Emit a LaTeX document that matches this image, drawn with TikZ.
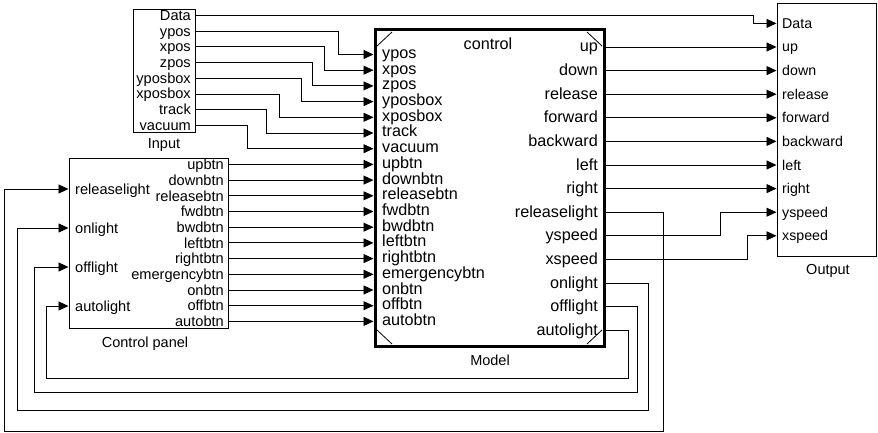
\documentclass[tikz,border=0pt]{standalone}
\usepackage{fontspec}
\setmainfont{Liberation Sans}
\usetikzlibrary{arrows.meta}
\begin{document}
\begin{tikzpicture}[x=1pt,y=-1pt,
  wire/.style={line width=0.9pt,draw=black},
  sig/.style={wire,-{Triangle[length=10pt,width=9pt]}},
  blk/.style={draw,line width=0.9pt,inner sep=0pt,outer sep=0pt,anchor=north west},
  port/.style={inner sep=0pt,font=\fontsize{14.6}{14.6}\selectfont},
  oport/.style={inner sep=0pt,font=\fontsize{14.2}{14.2}\selectfont},
  mport/.style={inner sep=0pt,font=\fontsize{16.2}{16.2}\selectfont},
  title/.style={inner sep=0pt,font=\fontsize{14.5}{14.5}\selectfont},
]
\useasboundingbox (0,0) rectangle (878,433);

% ---- blocks ----
\node[blk,minimum width=62pt,minimum height=123pt] (input) at (133,9) {};
\node[blk,minimum width=159pt,minimum height=170pt] (panel) at (69,158) {};
\node[blk,line width=3pt,minimum width=229pt,minimum height=316pt] (model) at (375,30) {};
\node[blk,minimum width=99pt,minimum height=253pt] (output) at (777,3) {};

% cut corners of the model block
\draw[line width=0.8pt] (model.north west) ++(2,16) -- ++(15,-14);
\draw[line width=0.8pt] (model.north east) ++(-2,16) -- ++(-15,-14);
\draw[line width=0.8pt] (model.south west) ++(2,-16) -- ++(15,14);
\draw[line width=0.8pt] (model.south east) ++(-2,-16) -- ++(-15,14);

% block captions
\node[title] (inputcap) at (164,145) {Input};
\node[title] (panelcap) at (145,344) {Control panel};
\node[title] (modelcap) at (490,360) {Model};
\node[title] (outputcap) at (828,271) {Output};
\node[mport,anchor=base] (modeltitle) at (488,50) {control};

% ---- ports of the input block ----
\foreach \n [count=\i from 0] in {Data,ypos,xpos,zpos,yposbox,xposbox,track,vacuum} {
  \coordinate (in-\n) at (195,{15.5+15.7*\i});
  \node[port,anchor=base east] (inl-\n) at (191,{20.5+15.7*\i}) {\n};
}

% ---- input ports of the model ----
\foreach \n [count=\i from 0] in {ypos,xpos,zpos,yposbox,xposbox,track,vacuum,upbtn,downbtn,releasebtn,fwdbtn,bwdbtn,leftbtn,rightbtn,emergencybtn,onbtn,offbtn,autobtn} {
  \coordinate (mi-\n) at (373.5,{54.5+15.7*\i});
  \node[mport,anchor=base west] (mil-\n) at (382,{58.5+15.7*\i}) {\n};
}

% ---- output ports of the model ----
\foreach \n [count=\i from 0] in {up,down,release,forward,backward,left,right,releaselight,yspeed,xspeed,onlight,offlight,autolight} {
  \coordinate (mo-\n) at (605.5,{47+23.6*\i});
  \node[mport,anchor=base east] (mol-\n) at (598,{52+23.6*\i}) {\n};
}

% ---- ports of the output block ----
\foreach \n [count=\i from 0] in {Data,up,down,release,forward,backward,left,right,yspeed,xspeed} {
  \coordinate (oi-\n) at (776.5,{23.4+23.6*\i});
  \node[oport,anchor=base west] (oil-\n) at (782,{28.4+23.6*\i}) {\n};
}

% ---- ports of the control panel ----
\foreach \n [count=\i from 7] in {upbtn,downbtn,releasebtn,fwdbtn,bwdbtn,leftbtn,rightbtn,emergencybtn,onbtn,offbtn,autobtn} {
  \coordinate (co-\n) at (228,{54.5+15.7*\i});
  \node[port,anchor=base east] (col-\n) at (224,{59.7+15.7*\i}) {\n};
}
\foreach \n [count=\i from 0] in {releaselight,onlight,offlight,autolight} {
  \coordinate (ci-\n) at (68.5,{189+39*\i});
  \node[port,anchor=base west] (cil-\n) at (75,{194+39*\i}) {\n};
}

% ---- connections: input -> model / output ----
\draw[sig] (in-Data) -- (753,0 |- in-Data) |- (oi-Data);
\foreach \n/\bx in {ypos/338,xpos/324,zpos/312,yposbox/301,xposbox/279,track/266,vacuum/247}
  \draw[sig] (in-\n) -- (\bx,0 |- in-\n) |- (mi-\n);

% ---- connections: control panel -> model ----
\foreach \n in {upbtn,downbtn,releasebtn,fwdbtn,bwdbtn,leftbtn,rightbtn,emergencybtn,onbtn,offbtn,autobtn}
  \draw[sig] (co-\n) -- (mi-\n);

% ---- connections: model -> output ----
\foreach \n in {up,down,release,forward,backward,left,right}
  \draw[sig] (mo-\n) -- (oi-\n);
\draw[sig] (mo-yspeed) -- (720,0 |- mo-yspeed) |- (oi-yspeed);
\draw[sig] (mo-xspeed) -- (747,0 |- mo-xspeed) |- (oi-xspeed);

% ---- feedback: model lights -> control panel ----
\draw[sig] (mo-releaselight) -| (663,431) -- (4,431) |- (ci-releaselight);
\draw[sig] (mo-onlight) -| (648,410) -- (17,410) |- (ci-onlight);
\draw[sig] (mo-offlight) -| (637,392) -- (34,392) |- (ci-offlight);
\draw[sig] (mo-autolight) -| (628,378) -- (46,378) |- (ci-autolight);
\end{tikzpicture}
\end{document}
